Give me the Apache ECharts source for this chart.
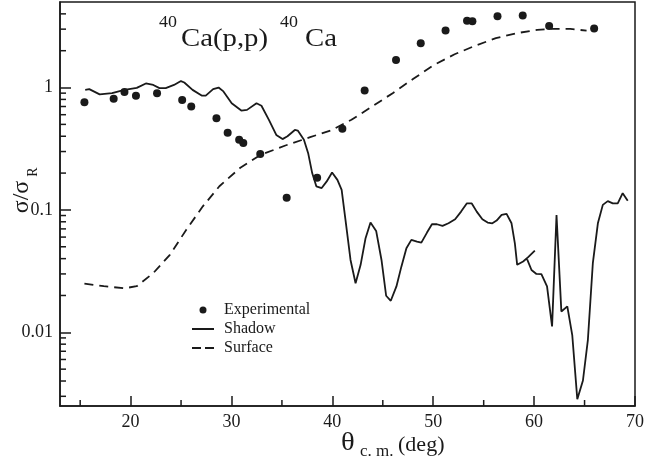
<!DOCTYPE html>
<html><head><meta charset="utf-8">
<script src="https://cdn.jsdelivr.net/npm/echarts@6/dist/echarts.min.js"></script>
<style>html,body{margin:0;padding:0;background:#fff}#c{width:647px;height:461px}</style>
</head><body><div id="c"></div>
<script>
// Experimental points
const expX = [15.42,18.32,19.39,20.53,22.62,25.11,26.01,28.51,29.62,30.76,31.17,32.85,35.47,38.49,40.99,43.2,46.31,48.76,51.22,53.35,53.88,56.37,58.87,61.49,65.95];
const expY = [0.76,0.81,0.92,0.855,0.90,0.79,0.70,0.56,0.427,0.374,0.353,0.287,0.126,0.183,0.46,0.945,1.68,2.30,2.92,3.52,3.48,3.82,3.87,3.19,3.03];
// Shadow model ('-' marks a break in the curve)
const shadowX = [15.5,15.9,16.93,18.16,19.39,20.61,21.51,22.25,22.86,23.48,24.3,24.99,25.32,26.14,27.04,27.45,28.18,28.72,29.2,30.02,30.97,31.54,32.48,32.97,33.71,34.44,35.06,35.55,36.28,36.57,37.18,37.6,38.0,38.41,38.94,39.44,39.97,40.16,40.5,40.92,41.3,41.8,42.3,42.8,43.29,43.78,44.34,44.87,45.33,45.79,46.35,46.84,47.34,47.83,48.39,48.82,49.38,49.87,50.36,50.92,51.51,52.17,52.76,53.32,53.82,54.31,54.87,55.39,55.86,56.28,56.78,57.27,57.76,58.09,58.32,58.91,59.41,60.07,60.07,59.31,59.74,60.23,60.72,61.28,61.78,62.22,62.32,62.7,63.29,63.78,64.28,64.84,65.33,65.82,66.32,66.81,67.3,67.8,68.29,68.78,69.28];
const shadowY = [0.957,0.97,0.88,0.90,0.957,0.994,1.08,1.05,0.99,0.99,1.05,1.13,1.10,0.957,0.86,0.86,0.97,1.0,0.93,0.745,0.649,0.657,0.745,0.71,0.545,0.41,0.379,0.40,0.45,0.445,0.374,0.291,0.20,0.156,0.151,0.171,0.202,0.197,0.176,0.146,0.0829,0.039,0.0252,0.0356,0.0588,0.0788,0.0674,0.039,0.0199,0.0181,0.0237,0.0344,0.0487,0.0569,0.0551,0.0541,0.0653,0.0764,0.0764,0.074,0.0778,0.0839,0.0969,0.113,0.113,0.0969,0.0839,0.0788,0.0778,0.0818,0.091,0.0928,0.0778,0.0534,0.0356,0.0379,0.0411,0.0466,'-',0.0395,0.0323,0.0300,0.0299,0.0237,0.01117,0.091,0.090,0.0148,0.0163,0.0095,0.00284,0.00404,0.00869,0.0367,0.0778,0.11,0.118,0.113,0.113,0.137,0.119];
// Surface model
const surfX = [15.42,17.34,19.39,20.6,22.25,23.89,25.52,27.16,28.8,30.84,32.89,35.34,37.8,39.84,41.89,43.94,45.98,48.03,50.07,52.12,54.17,56.21,58.26,60.3,61.5,63.58,65.2];
const surfY = [0.0250,0.0238,0.0229,0.0238,0.0305,0.043,0.0689,0.107,0.156,0.22,0.282,0.336,0.393,0.446,0.545,0.70,0.90,1.18,1.53,1.87,2.20,2.53,2.78,2.96,3.01,3.01,2.92];
// Axis ticks
const xMajor = [20,30,40,50,60,70];
const xMinor = [15,25,35,45,55,65];
const yMinor = [0.003,0.004,0.005,0.006,0.007,0.008,0.009,0.02,0.03,0.04,0.05,0.06,0.07,0.08,0.09,0.2,0.3,0.4,0.5,0.6,0.7,0.8,0.9,2,3,4];
const X_MIN = 13, X_MAX = 70, Y_MIN = 0.0025, Y_MAX = 5;

const zip = (a, b) => a.map((v, i) => [v, b[i]]);
const INK = '#1a1a1a';
const FONT = '"Liberation Serif","Times New Roman",serif';

const tickData = xMinor.map(v => [v, Y_MIN, 1]).concat(yMinor.map(v => [X_MIN, v, 0]));

const chart = echarts.init(document.getElementById('c'), null, {renderer: 'canvas'});
chart.setOption({
  animation: false,
  backgroundColor: '#fff',
  grid: {left: 60, right: 10, top: 2, bottom: 55, show: true, borderColor: INK, borderWidth: 1.5, backgroundColor: 'transparent'},
  xAxis: {
    type: 'value', min: X_MIN, max: X_MAX,
    axisLine: {show: true, lineStyle: {color: INK, width: 1.5}},
    axisTick: {show: true, inside: true, length: 10, lineStyle: {color: INK, width: 1.5}},
    splitLine: {show: false},
    axisLabel: {margin: 7, color: INK, fontFamily: FONT, fontSize: 18, showMinLabel: false,
      formatter: v => (xMajor.indexOf(Math.round(v)) >= 0 && Math.abs(v - Math.round(v)) < 1e-6) ? String(Math.round(v)) : ''}
  },
  yAxis: {
    type: 'log', logBase: 10, min: Y_MIN, max: Y_MAX,
    axisLine: {show: true, lineStyle: {color: INK, width: 1.5}},
    axisTick: {show: true, inside: true, length: 11, lineStyle: {color: INK, width: 1.5}},
    splitLine: {show: false},
    axisLabel: {margin: 7, color: INK, fontFamily: FONT, fontSize: 18, showMinLabel: false, showMaxLabel: false,
      formatter: v => { const l = Math.log10(v), e = Math.round(l); if (Math.abs(l - e) > 1e-6) return ''; return e >= 0 ? String(Math.pow(10, e)) : Math.pow(10, e).toFixed(-e); }}
  },
  legend: {
    orient: 'vertical', left: 187, top: 297, itemWidth: 22, itemHeight: 7, itemGap: 3,
    symbolKeepAspect: true,
    textStyle: {fontFamily: FONT, fontSize: 16, color: INK, padding: [0, 0, 0, 5]},
    data: [
      {name: 'Experimental', icon: 'circle', itemStyle: {color: INK, opacity: 1}},
      {name: 'Shadow', icon: 'path://M0,0h22v2h-22z', itemStyle: {color: INK}},
      {name: 'Surface', icon: 'path://M0,0h9v2h-9zM13,0h9v2h-9z', itemStyle: {color: INK}}
    ]
  },
  series: [
    {name: 'Surface', type: 'line', data: zip(surfX, surfY), symbol: 'none', smooth: false,
      lineStyle: {color: INK, width: 1.8, type: [9, 6]}, itemStyle: {color: INK}},
    {name: 'Shadow', type: 'line', data: zip(shadowX, shadowY), symbol: 'none', connectNulls: false,
      lineStyle: {color: INK, width: 1.8}, itemStyle: {color: INK}},
    {name: 'Experimental', type: 'scatter', data: zip(expX, expY), symbol: 'circle', symbolSize: 8,
      itemStyle: {color: INK, opacity: 1}},
    {name: 'ticks', type: 'custom', silent: true, data: tickData,
      renderItem: (params, api) => {
        const p = api.coord([api.value(0), api.value(1)]);
        const isX = api.value(2) === 1;
        return {type: 'line', shape: isX ? {x1: p[0], y1: p[1], x2: p[0], y2: p[1] - 6} : {x1: p[0], y1: p[1], x2: p[0] + 6, y2: p[1]},
          style: {stroke: INK, lineWidth: 1.5}};
      }}
  ],
  graphic: [
    {type: 'text', x: 159, y: 15, scaleX: 1.12, style: {text: '40', fontFamily: FONT, fontSize: 16, fill: INK}},
    {type: 'text', x: 181, y: 27, scaleX: 1.15, style: {text: 'Ca(p,p)', fontFamily: FONT, fontSize: 25, fill: INK}},
    {type: 'text', x: 280, y: 15, scaleX: 1.12, style: {text: '40', fontFamily: FONT, fontSize: 16, fill: INK}},
    {type: 'text', x: 305, y: 27, scaleX: 1.15, style: {text: 'Ca', fontFamily: FONT, fontSize: 25, fill: INK}},
    {type: 'text', x: 22, y: 197, rotation: Math.PI / 2, style: {text: 'σ/σ', fontFamily: FONT, fontSize: 24, fill: INK, align: 'center', verticalAlign: 'middle'}},
    {type: 'text', x: 33, y: 172, rotation: Math.PI / 2, style: {text: 'R', fontFamily: FONT, fontSize: 14, fill: INK, align: 'center', verticalAlign: 'middle'}},
    {type: 'text', x: 341, y: 443, scaleX: 1.1, style: {text: 'θ', fontFamily: FONT, fontSize: 26, fill: INK, align: 'left', verticalAlign: 'middle'}},
    {type: 'text', x: 360, y: 452, style: {text: 'c. m.', fontFamily: FONT, fontSize: 17, fill: INK, align: 'left', verticalAlign: 'middle'}},
    {type: 'text', x: 398, y: 445, scaleX: 1.05, style: {text: '(deg)', fontFamily: FONT, fontSize: 21, fill: INK, align: 'left', verticalAlign: 'middle'}}
  ]
});
</script></body></html>
